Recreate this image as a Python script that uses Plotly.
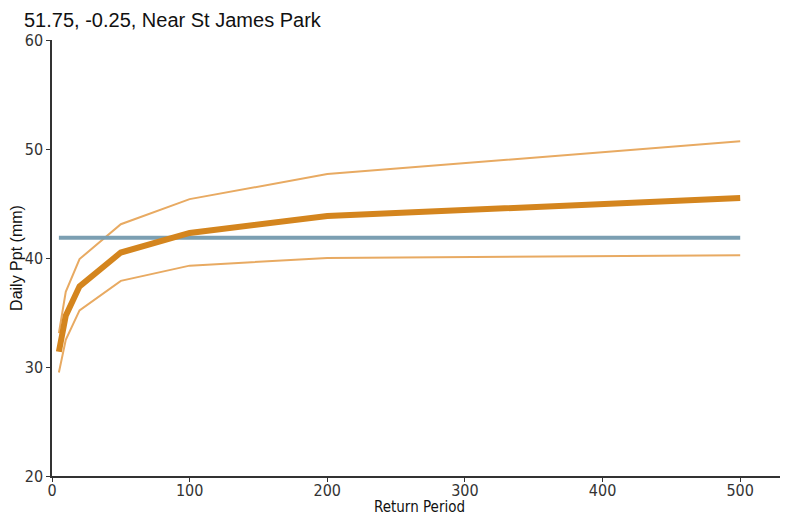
import plotly.graph_objects as go

return_period = [5, 10, 20, 50, 100, 200, 500]
central = [31.4, 34.7, 37.4, 40.5, 42.3, 43.85, 45.5]
upper = [33.1, 36.9, 39.9, 43.1, 45.4, 47.7, 50.7]
lower = [29.5, 32.5, 35.2, 37.9, 39.3, 40.0, 40.25]
observed = [41.85, 41.85]
observed_x = [5, 500]

NARROW = "DejaVu Sans Condensed, Liberation Sans Narrow, Liberation Sans, Arial, sans-serif"
REG = "Liberation Sans, Arial, sans-serif"

fig = go.Figure()
fig.add_trace(go.Scatter(x=return_period, y=upper, mode="lines",
                         line=dict(color="#E8AA62", width=2), showlegend=False))
fig.add_trace(go.Scatter(x=return_period, y=lower, mode="lines",
                         line=dict(color="#E8AA62", width=2), showlegend=False))
fig.add_trace(go.Scatter(x=observed_x, y=observed, mode="lines",
                         line=dict(color="#7B9FB2", width=4), showlegend=False))
fig.add_trace(go.Scatter(x=return_period, y=central, mode="lines",
                         line=dict(color="#D4851E", width=6), showlegend=False))

fig.update_layout(
    width=780, height=508,
    margin=dict(l=44, r=1, t=32, b=40),
    paper_bgcolor="white", plot_bgcolor="white",
    font=dict(family=REG, color="#222"),
    title=dict(text="51.75, -0.25, Near St James Park", x=0, xref="paper",
               xanchor="left", y=1 - 12 / 508, yref="container", yanchor="middle",
               font=dict(size=20, color="#111", family=REG), pad=dict(l=-28)),
    xaxis=dict(range=[0, 534], tickvals=[0, 100, 200, 300, 400, 500],
               automargin=False,
               showgrid=False, zeroline=False, showline=True, linecolor="#333",
               linewidth=1.5, ticks="outside", ticklen=4, tickcolor="#333",
               ticklabelstandoff=-5,
               tickfont=dict(size=16, color="#333", family=NARROW),
               title=dict(text="Return Period", font=dict(size=15, color="#111", family=NARROW), standoff=0)),
    yaxis=dict(range=[20, 60], tickvals=[20, 30, 40, 50, 60],
               automargin=False,
               showgrid=False, zeroline=False, showline=True, linecolor="#333",
               linewidth=1.5, ticks="outside", ticklen=4, tickcolor="#333",
               tickfont=dict(size=16, color="#333", family=NARROW),
               title=dict(text="Daily Ppt (mm)", font=dict(size=16, color="#111", family=REG), standoff=4)),
)

fig.write_html("out.html")
